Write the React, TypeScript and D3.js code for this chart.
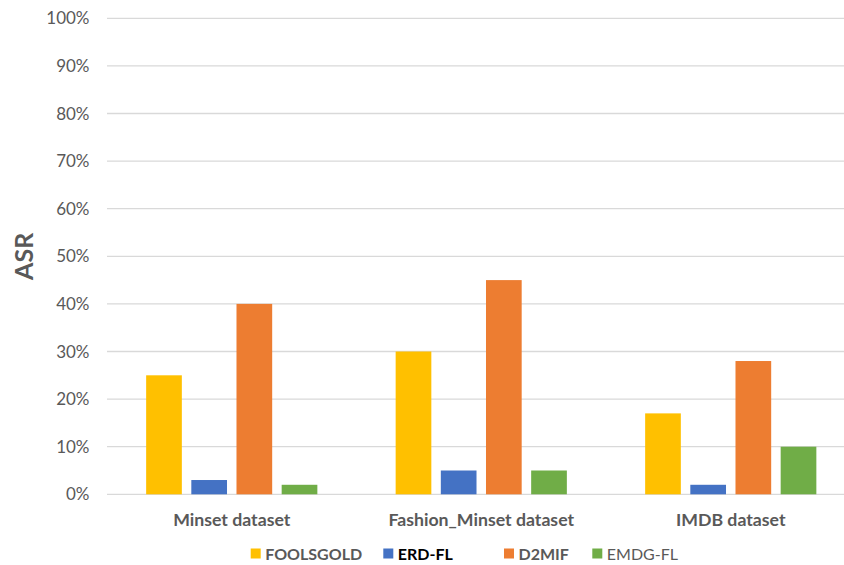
import React from "react";
import * as d3 from "d3";

// Attack success rate (%) per dataset and defence method
const categories = ["Minset dataset", "Fashion_Minset dataset", "IMDB dataset"];
const seriesNames = ["FOOLSGOLD", "ERD-FL", "D2MIF", "EMDG-FL"];
const foolsgold = [25, 30, 17];
const erdFl = [3, 5, 2];
const d2mif = [40, 45, 28];
const emdgFl = [2, 5, 10];
const yTicks = [0, 10, 20, 30, 40, 50, 60, 70, 80, 90, 100];

const seriesValues = [foolsgold, erdFl, d2mif, emdgFl];
const colors = ["#FFC000", "#4472C4", "#ED7D31", "#70AD47"];
const legendWeights = [700, 700, 700, 400];
const legendFills = ["#595959", "#000000", "#595959", "#595959"];

const W = 844;
const H = 565;
const plot = { left: 107, right: 855.5, top: 18.3, bottom: 494.3 };
const FONT = "Lato, 'Open Sans', sans-serif";

export default function App() {
  const x0 = d3
    .scaleBand<string>()
    .domain(categories)
    .range([plot.left, plot.right])
    .paddingInner(0)
    .paddingOuter(0);
  const groupHalf = 85.6;
  const x1 = d3
    .scaleBand<string>()
    .domain(seriesNames)
    .range([-groupHalf, groupHalf])
    .paddingInner(0.21)
    .paddingOuter(0);
  const y = d3.scaleLinear().domain([0, 100]).range([plot.bottom, plot.top]);

  // legend: square marker then label, items laid out left to right
  const legendX = [250.7, 383.3, 504, 592.3];

  return (
    <svg
      width={W}
      height={H}
      style={{ position: "absolute", left: 0, top: 0, background: "#fff" }}
      fontFamily={FONT}
    >
      <rect width={W} height={H} fill="#fff" />
      {yTicks.map((t) => (
        <g key={t}>
          <line
            x1={plot.left}
            x2={W}
            y1={y(t)}
            y2={y(t)}
            stroke="#d9d9d9"
            strokeWidth={1.3}
          />
          <text
            x={89.5}
            y={y(t)}
            dy="0.36em"
            textAnchor="end"
            fontSize={17}
            fill="#595959"
          >
            {d3.format(".0%")(t / 100)}
          </text>
        </g>
      ))}
      {categories.map((c, ci) => {
        const cx = (x0(c) as number) + x0.bandwidth() / 2;
        return (
          <g key={c}>
            {seriesNames.map((s, si) => {
              const v = seriesValues[si][ci];
              return (
                <rect
                  key={s}
                  x={cx + (x1(s) as number)}
                  y={y(v)}
                  width={x1.bandwidth()}
                  height={y(0) - y(v)}
                  fill={colors[si]}
                />
              );
            })}
            <text
              x={cx}
              y={526}
              textAnchor="middle"
              fontSize={17.7}
              fontWeight={700}
              fill="#595959"
            >
              {c}
            </text>
          </g>
        );
      })}
      <text
        transform={`translate(33,${y(50)}) rotate(-90)`}
        textAnchor="middle"
        fontSize={25}
        fontWeight={700}
        fill="#595959"
      >
        ASR
      </text>
      {seriesNames.map((s, i) => (
        <g key={s} transform={`translate(${legendX[i]},0)`}>
          <rect x={0} y={548.5} width={10} height={10} fill={colors[i]} />
          <text
            x={14.5}
            y={560}
            fontSize={16}
            fontWeight={legendWeights[i]}
            fill={legendFills[i]}
          >
            {s}
          </text>
        </g>
      ))}
    </svg>
  );
}
